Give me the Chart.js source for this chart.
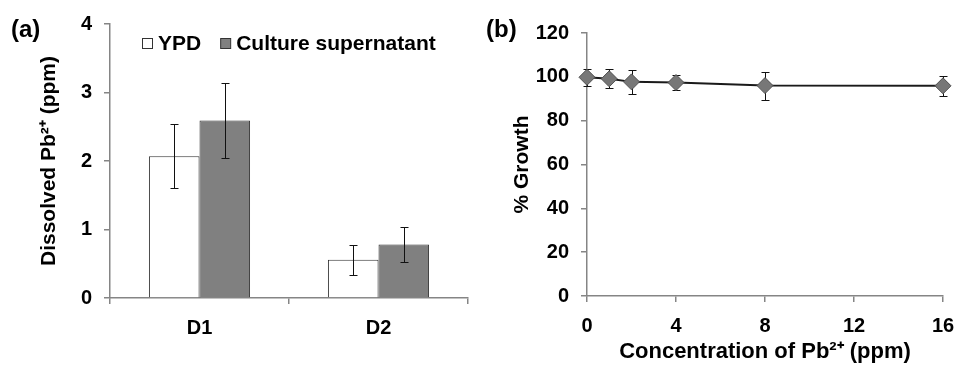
<!DOCTYPE html>
<html><head><meta charset="utf-8">
<script src="https://cdn.jsdelivr.net/npm/chart.js@4/dist/chart.umd.min.js"></script>
<style>
html,body{margin:0;padding:0;background:#fff;width:956px;height:365px;overflow:hidden;}
.panel{position:absolute;top:0;width:478px;height:365px;}
.lbl{position:absolute;font:bold 24px 'Liberation Sans',Arial,sans-serif;color:#000;line-height:28px;}
</style></head><body>
<div class="panel" style="left:0"><canvas id="ca"></canvas></div>
<div class="panel" style="left:478px"><canvas id="cb"></canvas></div>
<div class="lbl" style="left:11px;top:15px">(a)</div>
<div class="lbl" style="left:486px;top:15px">(b)</div>
<script>
// ---- data: panel (a)
const categories = ['D1', 'D2'];
const ypdValues = [2.07, 0.56];
const ypdErrors = [0.47, 0.22];
const cultureValues = [2.59, 0.78];
const cultureErrors = [0.55, 0.26];
const yTicksA = [0, 1, 2, 3, 4];
// ---- data: panel (b)
const concentrations = [0, 1, 2, 4, 8, 16];
const growthValues = [99.8, 99.1, 97.7, 97.4, 96.0, 95.9];
const growthErrors = [3.8, 4.3, 5.4, 3.5, 6.4, 4.6];
const xTicksB = [0, 4, 8, 12, 16];
const yTicksB = [0, 20, 40, 60, 80, 100, 120];

const FAMILY = "'Liberation Sans', Arial, Helvetica, sans-serif";
const tickFont = {family: FAMILY, size: 20, weight: 'bold'};
const titleFont = {family: FAMILY, size: 21, weight: 'bold'};
const xTitleFont = {family: FAMILY, size: 22, weight: 'bold'};
const AXIS = '#858585';

function drawErrors(chart) {
  const ctx = chart.ctx;
  chart.data.datasets.forEach((ds, di) => {
    if (!ds.errors) return;
    const meta = chart.getDatasetMeta(di);
    const ys = chart.scales[meta.yAxisID];
    meta.data.forEach((el, i) => {
      const d = ds.data[i];
      const v = (typeof d === 'object') ? d.y : d;
      const e = ds.errors[i];
      const x = Math.round(el.x) + 0.5;
      const yTop = Math.round(ys.getPixelForValue(v + e)) + 0.5;
      const yBot = Math.round(ys.getPixelForValue(v - e)) + 0.5;
      ctx.save();
      ctx.strokeStyle = '#111';
      ctx.lineWidth = 1;
      ctx.beginPath();
      ctx.moveTo(x, yTop); ctx.lineTo(x, yBot);
      ctx.moveTo(x - 4, yTop); ctx.lineTo(x + 4, yTop);
      ctx.moveTo(x - 4, yBot); ctx.lineTo(x + 4, yBot);
      ctx.stroke();
      ctx.restore();
    });
  });
}
const errorBars = {
  id: 'errorBars',
  beforeDatasetsDraw(chart, args, opts) { if (opts.behind) drawErrors(chart); },
  afterDatasetsDraw(chart, args, opts) { if (!opts.behind) drawErrors(chart); }
};
const manualLegend = {
  id: 'manualLegend',
  afterDraw(chart, args, o) {
    const ctx = chart.ctx;
    let x = o.x;
    ctx.save();
    ctx.font = 'bold ' + o.size + 'px ' + FAMILY;
    ctx.textBaseline = 'middle';
    chart.data.datasets.forEach(ds => {
      ctx.fillStyle = ds.backgroundColor;
      ctx.fillRect(x + 0.5, o.y - 5 + 0.5, 10, 10);
      ctx.strokeStyle = '#333';
      ctx.lineWidth = 1;
      ctx.strokeRect(x + 0.5, o.y - 5 + 0.5, 10, 10);
      x += 10 + o.gap;
      ctx.fillStyle = '#000';
      ctx.fillText(ds.label, x, o.y + 1);
      x += ctx.measureText(ds.label).width + o.spacing;
    });
    ctx.restore();
  }
};

function axisCommon() {
  return {
    grid: {drawOnChartArea: false, tickLength: 6, color: AXIS, lineWidth: 1.5},
    border: {color: AXIS, width: 1.5}
  };
}

new Chart(document.getElementById('ca'), {
  type: 'bar',
  data: {
    labels: categories,
    datasets: [
      {label: 'YPD', data: ypdValues, errors: ypdErrors, backgroundColor: '#ffffff', borderColor: '#333', borderWidth: 1},
      {label: 'Culture supernatant', data: cultureValues, errors: cultureErrors, backgroundColor: '#808080', borderColor: '#333', borderWidth: 1}
    ]
  },
  options: {
    responsive: true, maintainAspectRatio: false, animation: false, devicePixelRatio: 1,
    layout: {padding: {left: 0, right: 10, top: 23, bottom: 0}},
    datasets: {bar: {categoryPercentage: 0.565, barPercentage: 1}},
    plugins: {
      legend: {display: false}, tooltip: {enabled: false},
      errorBars: {behind: false},
      manualLegend: {x: 142, y: 43, gap: 6, spacing: 19, size: 21}
    },
    scales: {
      x: Object.assign(axisCommon(), {
        ticks: {color: '#000', font: tickFont, padding: 12},
        afterFit(s) { s.height = 67; }
      }),
      y: Object.assign(axisCommon(), {
        min: 0, max: 4,
        afterBuildTicks(s) { s.ticks = yTicksA.map(v => ({value: v})); },
        ticks: {color: '#000', font: tickFont, padding: 12},
        title: {display: true, text: 'Dissolved Pb²⁺ (ppm)', color: '#000', font: titleFont, padding: {top: 37, bottom: 0}},
        afterFit(s) { s.width = 110; }
      })
    }
  },
  plugins: [errorBars, manualLegend]
});

new Chart(document.getElementById('cb'), {
  type: 'line',
  data: {
    datasets: [{
      label: '% Growth',
      data: concentrations.map((c, i) => ({x: c, y: growthValues[i]})),
      errors: growthErrors,
      borderColor: '#1a1a1a', borderWidth: 2, tension: 0, fill: false,
      pointStyle: 'rectRot', pointRadius: 8, pointHoverRadius: 8,
      pointBackgroundColor: '#777777', pointBorderColor: '#505050', pointBorderWidth: 1,
      clip: false
    }]
  },
  options: {
    responsive: true, maintainAspectRatio: false, animation: false, devicePixelRatio: 1,
    layout: {padding: {left: 0, right: 13, top: 33, bottom: 0}},
    plugins: {legend: {display: false}, tooltip: {enabled: false}, errorBars: {behind: true}},
    scales: {
      x: Object.assign(axisCommon(), {
        type: 'linear', min: 0, max: 16,
        afterBuildTicks(s) { s.ticks = xTicksB.map(v => ({value: v})); },
        ticks: {color: '#000', font: tickFont, padding: 12},
        title: {display: true, text: 'Concentration of Pb²⁺ (ppm)', color: '#000', font: xTitleFont, padding: {top: 0, bottom: 0}},
        afterFit(s) { s.height = 69; s.paddingRight = 0; s.paddingLeft = 0; }
      }),
      y: Object.assign(axisCommon(), {
        min: 0, max: 120,
        afterBuildTicks(s) { s.ticks = yTicksB.map(v => ({value: v})); },
        ticks: {color: '#000', font: tickFont, padding: 12},
        title: {display: true, text: '% Growth', color: '#000', font: titleFont, padding: {top: 32, bottom: 0}},
        afterFit(s) { s.width = 109; s.paddingTop = 0; s.paddingBottom = 0; }
      })
    }
  },
  plugins: [errorBars]
});
</script>
</body></html>
